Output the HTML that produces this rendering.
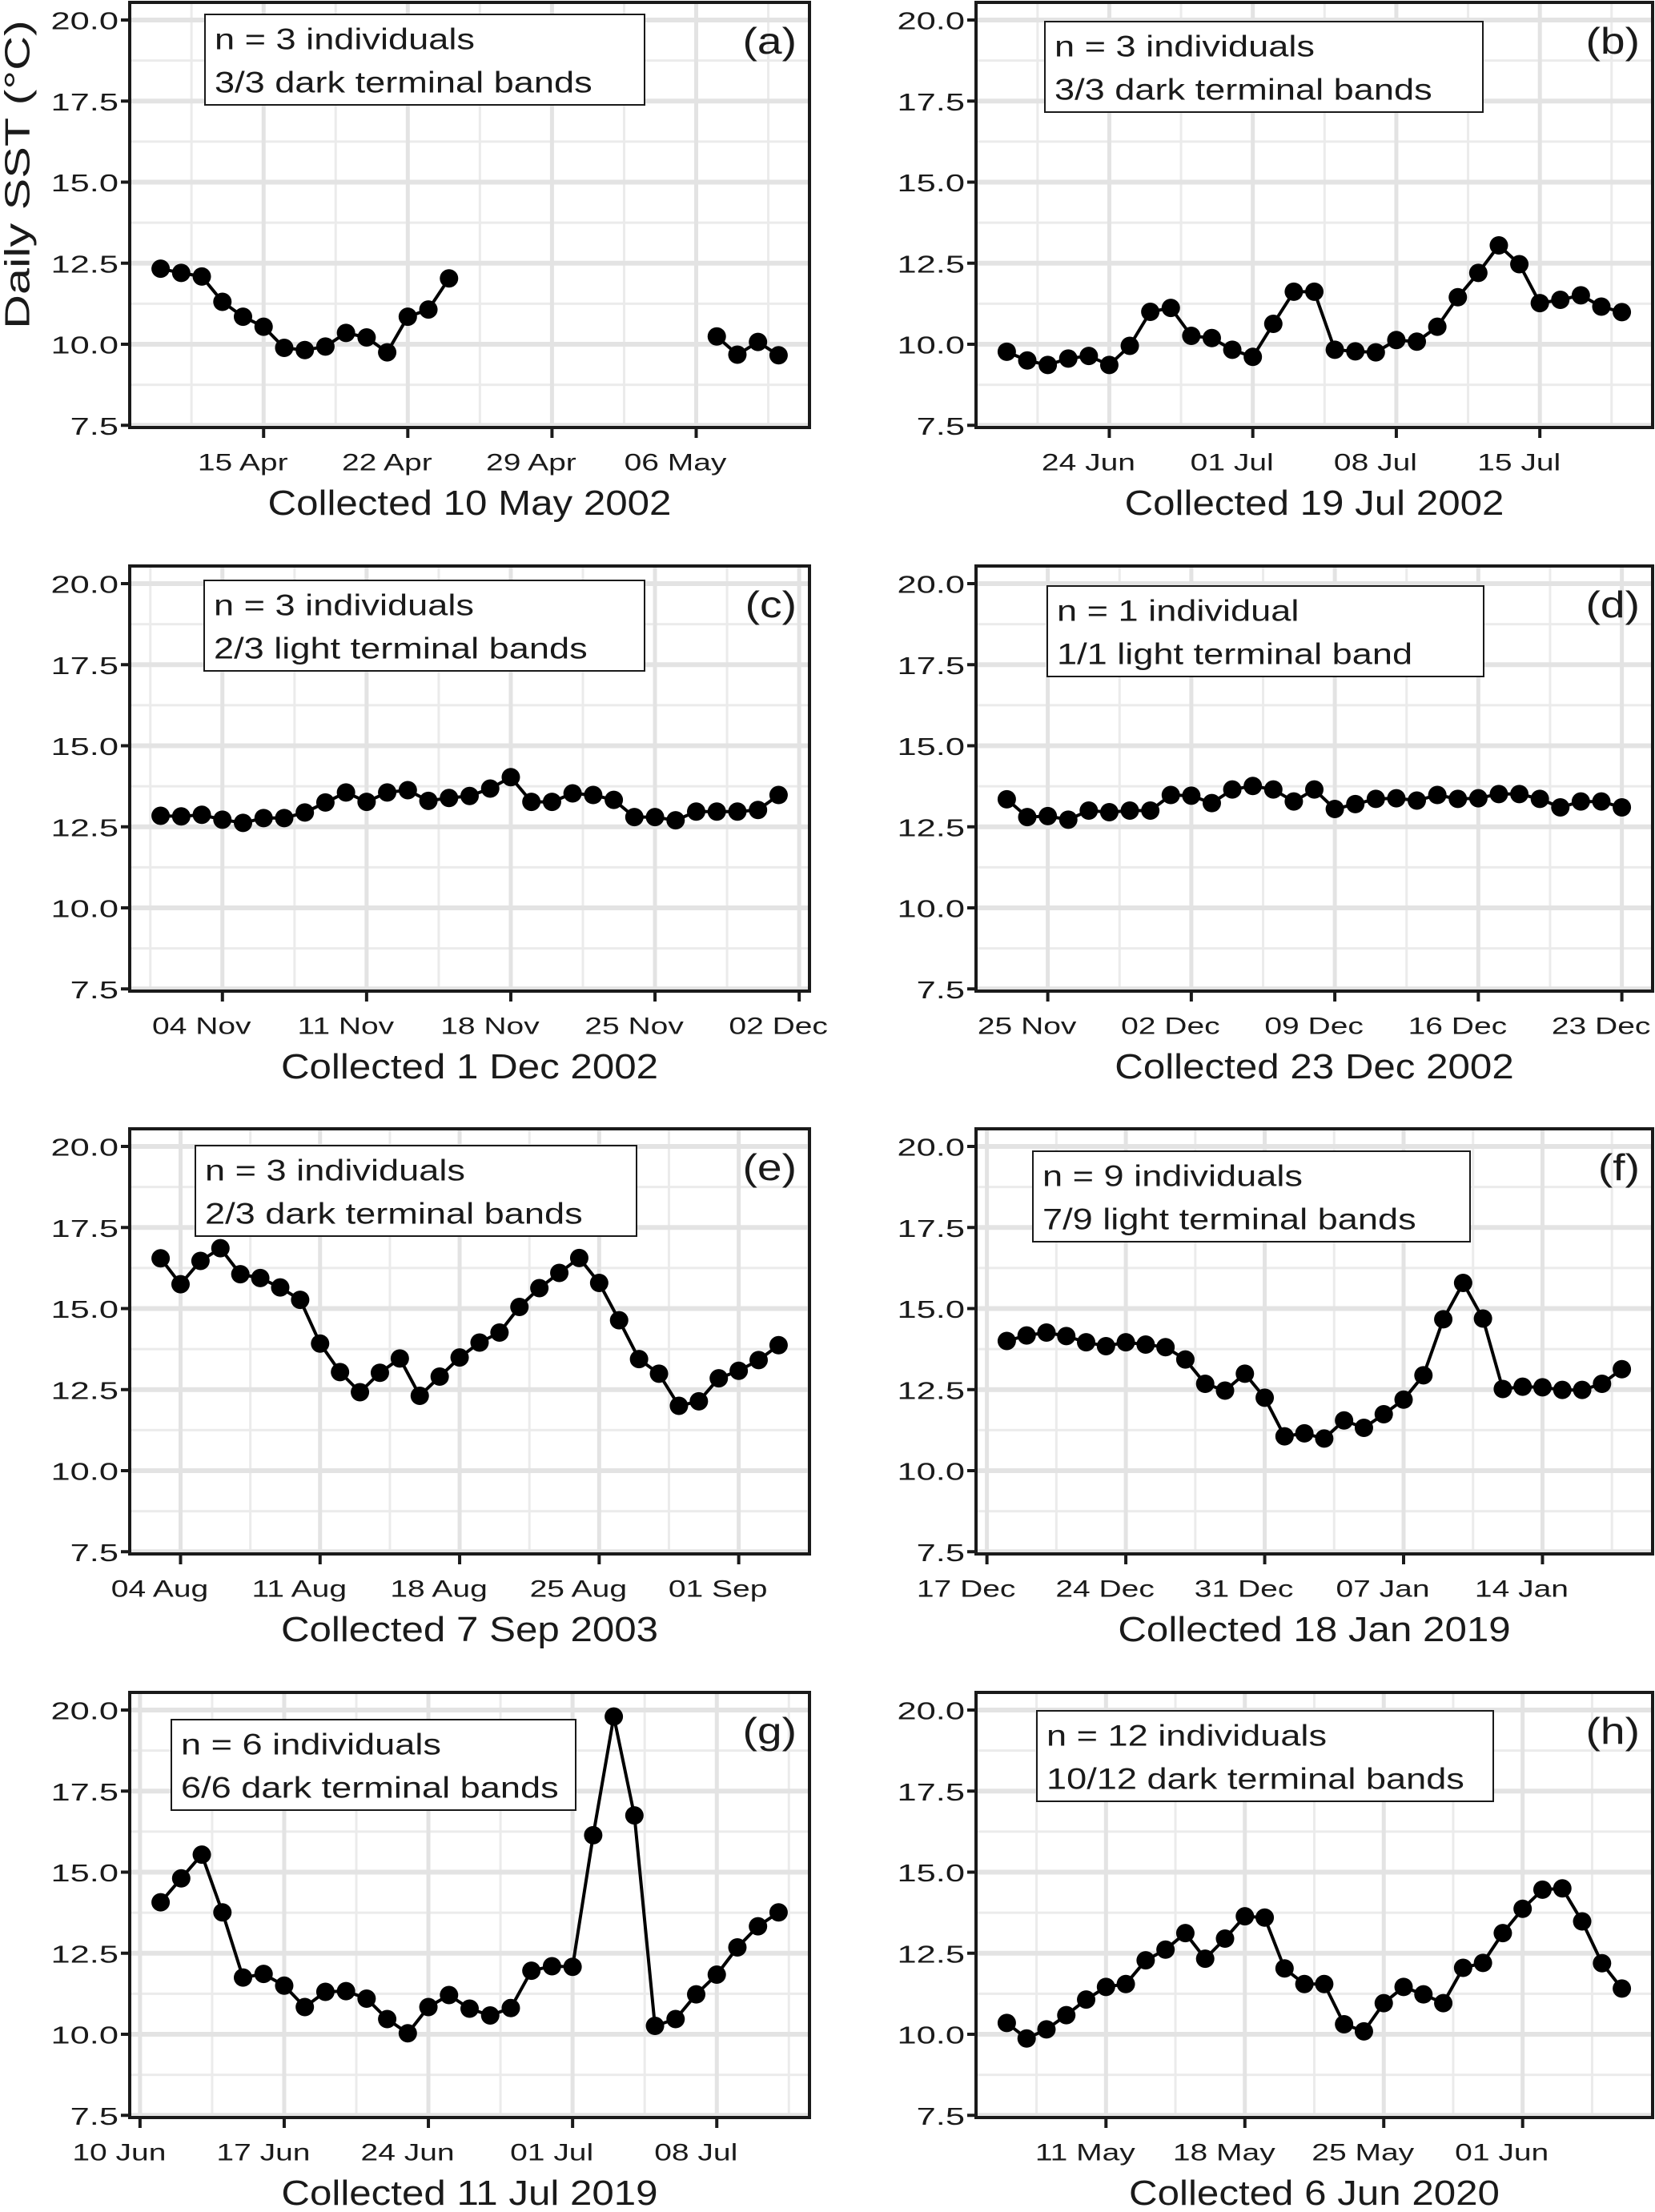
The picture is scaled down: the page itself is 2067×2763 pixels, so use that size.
<!DOCTYPE html>
<html><head><meta charset="utf-8"><style>
html,body{margin:0;padding:0;background:#fff;}
svg{display:block;font-family:"Liberation Sans",Arial,sans-serif;}
</style></head><body>
<svg id="fig" width="2067" height="2763" viewBox="0 0 2067 2763" xmlns="http://www.w3.org/2000/svg"></svg>
<script>
// ---- data ----
const panelLetters = ["(a)","(b)","(c)","(d)","(e)","(f)","(g)","(h)"];
const panelTitles = ["Collected 10 May 2002","Collected 19 Jul 2002","Collected 1 Dec 2002","Collected 23 Dec 2002","Collected 7 Sep 2003","Collected 18 Jan 2019","Collected 11 Jul 2019","Collected 6 Jun 2020"];
const annoLine1 = ["n = 3 individuals","n = 3 individuals","n = 3 individuals","n = 1 individual","n = 3 individuals","n = 9 individuals","n = 6 individuals","n = 12 individuals"];
const annoLine2 = ["3/3 dark terminal bands","3/3 dark terminal bands","2/3 light terminal bands","1/1 light terminal band","2/3 dark terminal bands","7/9 light terminal bands","6/6 dark terminal bands","10/12 dark terminal bands"];
const sstA = [12.33,12.2,12.09,11.31,10.85,10.54,9.89,9.82,9.93,10.35,10.21,9.75,10.85,11.07,12.03,null,null,null,null,null,null,null,null,null,null,null,null,10.24,9.68,10.07,9.66];
const sstB = [9.77,9.5,9.36,9.56,9.64,9.36,9.95,11.0,11.12,10.26,10.19,9.83,9.61,10.63,11.62,11.62,9.83,9.78,9.75,10.13,10.08,10.54,11.45,12.2,13.05,12.47,11.27,11.37,11.51,11.16,10.99];
const sstC = [12.84,12.82,12.87,12.72,12.62,12.77,12.77,12.94,13.25,13.56,13.27,13.56,13.63,13.3,13.39,13.45,13.68,14.03,13.27,13.27,13.53,13.48,13.33,12.8,12.8,12.7,12.97,12.97,12.97,13.02,13.48];
const sstD = [13.35,12.8,12.83,12.72,13.0,12.95,13.0,13.0,13.48,13.46,13.23,13.65,13.76,13.65,13.28,13.65,13.05,13.2,13.36,13.38,13.31,13.48,13.36,13.38,13.51,13.51,13.36,13.1,13.28,13.28,13.1];
const sstE = [16.55,15.75,16.47,16.86,16.06,15.94,15.65,15.27,13.92,13.04,12.42,13.02,13.46,12.31,12.9,13.49,13.95,14.26,15.05,15.63,16.1,16.56,15.79,14.64,13.44,12.99,12.0,12.14,12.85,13.08,13.41,13.87];
const sstF = [14.0,14.17,14.26,14.15,13.96,13.84,13.96,13.89,13.81,13.43,12.68,12.47,12.99,12.25,11.06,11.15,10.99,11.55,11.32,11.74,12.19,12.94,14.67,15.79,14.69,12.52,12.59,12.57,12.49,12.49,12.68,13.13];
const sstG = [14.07,14.81,15.54,13.76,11.75,11.86,11.5,10.84,11.31,11.33,11.1,10.47,10.03,10.84,11.21,10.79,10.58,10.81,11.96,12.1,12.08,16.14,19.8,16.75,10.26,10.47,11.23,11.84,12.68,13.33,13.76];
const sstH = [10.35,9.87,10.15,10.59,11.07,11.46,11.55,12.28,12.61,13.12,12.33,12.95,13.64,13.6,12.03,11.55,11.55,10.31,10.09,10.96,11.46,11.23,10.96,12.05,12.2,13.12,13.87,14.46,14.5,13.48,12.19,11.41];
const seriesList = [sstA,sstB,sstC,sstD,sstE,sstF,sstG,sstH];
const tickLabelsA = ["15 Apr","22 Apr","29 Apr","06 May"], tickDaysA = [5,12,19,26];
const tickLabelsB = ["24 Jun","01 Jul","08 Jul","15 Jul"], tickDaysB = [5,12,19,26];
const tickLabelsC = ["04 Nov","11 Nov","18 Nov","25 Nov","02 Dec"], tickDaysC = [3,10,17,24,31];
const tickLabelsD = ["25 Nov","02 Dec","09 Dec","16 Dec","23 Dec"], tickDaysD = [2,9,16,23,30];
const tickLabelsE = ["04 Aug","11 Aug","18 Aug","25 Aug","01 Sep"], tickDaysE = [1,8,15,22,29];
const tickLabelsF = ["17 Dec","24 Dec","31 Dec","07 Jan","14 Jan"], tickDaysF = [-1,6,13,20,27];
const tickLabelsG = ["10 Jun","17 Jun","24 Jun","01 Jul","08 Jul"], tickDaysG = [-1,6,13,20,27];
const tickLabelsH = ["11 May","18 May","25 May","01 Jun"], tickDaysH = [5,12,19,26];
const tickLabelSets = [tickLabelsA,tickLabelsB,tickLabelsC,tickLabelsD,tickLabelsE,tickLabelsF,tickLabelsG,tickLabelsH];
const tickDaySets = [tickDaysA,tickDaysB,tickDaysC,tickDaysD,tickDaysE,tickDaysF,tickDaysG,tickDaysH];
const yTicks = [7.5,10.0,12.5,15.0,17.5,20.0];
const yTickLabels = ["7.5","10.0","12.5","15.0","17.5","20.0"];

// ---- layout ----
const NS="http://www.w3.org/2000/svg";
const svg=document.getElementById('fig');
const cols=[[162,1011],[1219,2064]];
const rowY20=[25,729,1432,2136];
const pxPerUnit=40.5;
const annoBoxes=[[256,805,-7],[1305,1852,2],[255,805,-4],[1308,1853,3],[244,795,-1],[1290,1836,6],[214,719,12],[1295,1865,1]];
function mk(tag,attrs,parent){const e=document.createElementNS(NS,tag);for(const k in attrs)e.setAttribute(k,attrs[k]);(parent||svg).appendChild(e);return e;}
function txt(parent,s,x,y,size,anchor,sx,extra){
  const g=mk('g',{transform:`translate(${x},${y}) scale(${sx},1)`},parent);
  const t=mk('text',Object.assign({x:0,y:0,'font-size':size,'text-anchor':anchor,'dominant-baseline':'central',fill:'#1a1a1a'},extra||{}),g);
  t.textContent=s;return t;
}

for(let p=0;p<8;p++){
  const col=cols[p%2], r=Math.floor(p/2);
  const L=col[0],R=col[1],y20=rowY20[r];
  const top=y20-22,bot=y20+509;
  const yS=v=>y20+(20-v)*pxPerUnit;
  const data=seriesList[p];
  const range=data.length-1;
  const d0=-0.05*range,d1=range*1.05;
  const xS=d=>L+(d-d0)/(d1-d0)*(R-L);
  const g=mk('g',{});
  
  
  mk('rect',{x:L,y:top,width:R-L,height:bot-top,fill:'#fff'},g);
  for(let i=0;i<yTicks.length-1;i++){const v=yTicks[i]+1.25;mk('line',{x1:L,x2:R,y1:yS(v),y2:yS(v),stroke:'#ebebeb','stroke-width':3},g);}
  const td=tickDaySets[p];
  const minors=[td[0]-3.5].concat(td.map(d=>d+3.5));
  minors.forEach(d=>{if(d>d0&&d<d1)mk('line',{x1:xS(d),x2:xS(d),y1:top,y2:bot,stroke:'#ebebeb','stroke-width':3},g);});
  yTicks.forEach(v=>mk('line',{x1:L,x2:R,y1:yS(v),y2:yS(v),stroke:'#e3e3e3','stroke-width':6},g));
  td.forEach(d=>mk('line',{x1:xS(d),x2:xS(d),y1:top,y2:bot,stroke:'#e3e3e3','stroke-width':5},g));
  let path='',pen=false;
  data.forEach((v,i)=>{if(v===null){pen=false;return;}path+=(pen?'L':'M')+xS(i).toFixed(1)+' '+yS(v).toFixed(1);pen=true;});
  const ln=mk('path',{d:path,fill:'none',stroke:'#000','stroke-width':4,'stroke-linejoin':'round'},g);
  
  
  data.forEach((v,i)=>{if(v===null)return;
    const c=mk('circle',{cx:xS(i),cy:yS(v),r:11.5,fill:'#000'},g);
    
    
  });
  mk('rect',{x:L,y:top,width:R-L,height:bot-top,fill:'none',stroke:'#1a1a1a','stroke-width':4},g);
  yTicks.forEach((v,i)=>{
    mk('line',{x1:L-11,x2:L,y1:yS(v),y2:yS(v),stroke:'#1a1a1a','stroke-width':4},g);
    const t=txt(g,yTickLabels[i],L-14,yS(v)+1,31,'end',1.4);
    
    
  });
  td.forEach((d,i)=>{
    mk('line',{x1:xS(d),x2:xS(d),y1:bot,y2:bot+13,stroke:'#1a1a1a','stroke-width':4},g);
    const t=txt(g,tickLabelSets[p][i],xS(d)-26,y20+553,30,'middle',1.3);
    
    
  });
  const tt=txt(g,panelTitles[p],(L+R)/2,y20+603,44,'middle',1.12);
  
  
  const pl=txt(g,panelLetters[p],R-16,y20+26,46,'end',1.2);
  
  
  const b=annoBoxes[p];
  const bt=y20+b[2];
  const box=mk('rect',{x:b[0],y:bt,width:b[1]-b[0],height:113,fill:'#fff',stroke:'#1a1a1a','stroke-width':2},g);
  
  
  const a1=txt(g,annoLine1[p],b[0]+12,bt+31,37,'start',1.22);
  
  
  const a2=txt(g,annoLine2[p],b[0]+12,bt+85,37,'start',1.22);
  
  
}
const yt=mk('text',{x:0,y:0,'font-size':44,'text-anchor':'middle','dominant-baseline':'central',fill:'#1a1a1a',transform:'translate(22,218) rotate(-90) scale(1.35,1)'});
yt.textContent='Daily SST (°C)';


</script>
</body></html>
